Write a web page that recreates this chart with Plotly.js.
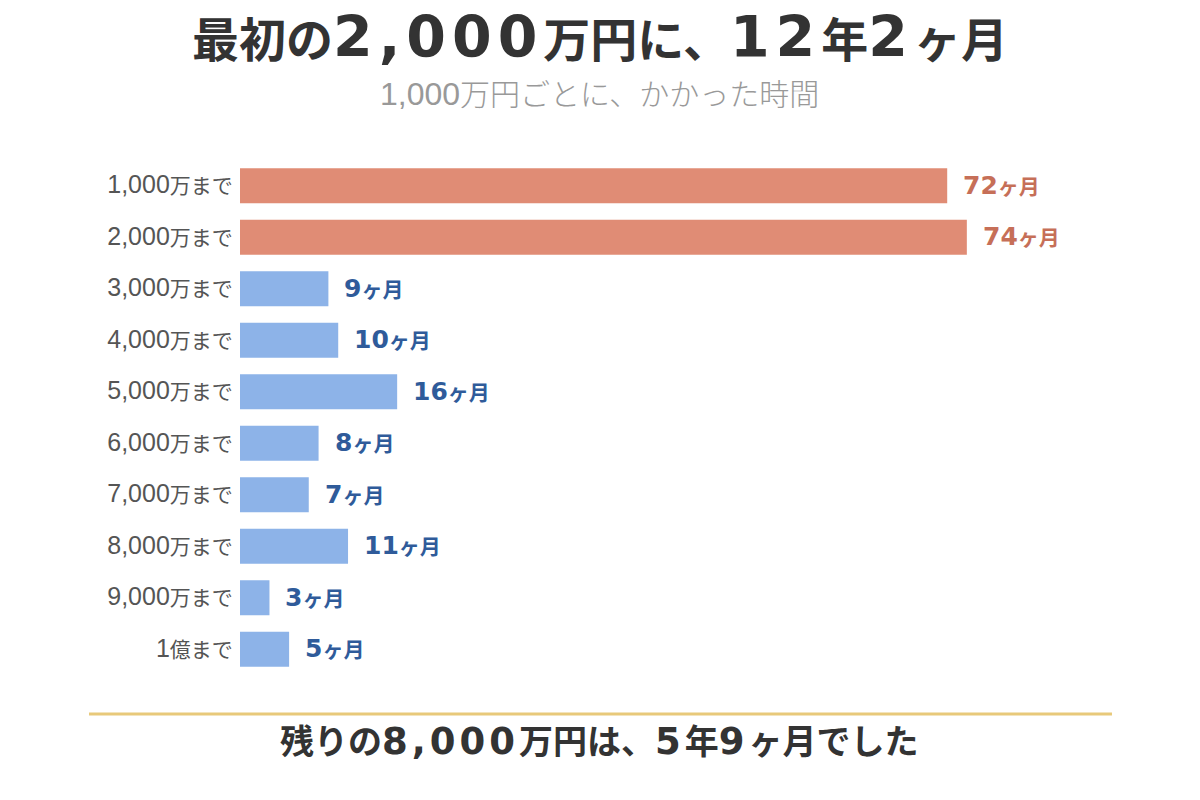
<!DOCTYPE html>
<html>
<head>
<meta charset="utf-8">
<script src="https://cdn.plot.ly/plotly-3.0.1.min.js"></script>
<style>
  html, body { margin: 0; padding: 0; background: #fff; }
  #chart { width: 1200px; height: 800px; }
</style>
</head>
<body>
<div id="chart"></div>
<script>
// 1,000万円ごとにかかった月数
const categories = ['1,000万まで', '2,000万まで', '3,000万まで', '4,000万まで', '5,000万まで',
                    '6,000万まで', '7,000万まで', '8,000万まで', '9,000万まで', '1億まで'];
const months = [72, 74, 9, 10, 16, 8, 7, 11, 3, 5];
const highlightCount = 2; // 最初の2,000万円

const titleText = '最初の2,000万円に、12年2ヶ月';
const subtitleText = '1,000万円ごとに、かかった時間';
const footerText = '残りの8,000万円は、5年9ヶ月でした';

const RED = '#e08c75', RED_TEXT = '#c66f58';
const BLUE = '#8db3e8', BLUE_TEXT = '#2f5b9a';
const CJK = '"Noto Sans CJK JP", sans-serif';

// 数字部分だけ大きめ・幅広のフォントにする
function digits(text, size, family, spacing) {
  return text.replace(/[0-9][0-9,]*/g, m =>
    `<span style="font-family:${family};font-size:${size}px;letter-spacing:${spacing}px">${m}</span>`);
}

const barColors = months.map((m, i) => i < highlightCount ? RED : BLUE);
const tickText = categories.map(c => digits(c, 25, 'Liberation Sans', 0));

const trace = {
  type: 'bar',
  orientation: 'h',
  x: months,
  y: categories,
  marker: { color: barColors },
  hoverinfo: 'none'
};

// 月数ラベル
const valueLabels = months.map((m, i) => ({
  x: m, y: categories[i], xref: 'x', yref: 'y',
  text: '<b>' + digits(m + 'ヶ月', 25, 'DejaVu Sans', 0) + '</b>',
  showarrow: false, xanchor: 'left', xshift: 14, yshift: 1,
  font: { family: CJK, size: 21, color: i < highlightCount ? RED_TEXT : BLUE_TEXT }
}));

const layout = {
  width: 1200, height: 800,
  margin: { l: 240, r: 76, t: 160, b: 125 },
  paper_bgcolor: '#fff', plot_bgcolor: '#fff',
  showlegend: false,
  bargap: 0.32,
  font: { family: CJK, color: '#555' },
  xaxis: {
    range: [0, 90], visible: false, fixedrange: true
  },
  yaxis: {
    type: 'category', autorange: 'reversed',
    tickmode: 'array', tickvals: categories, ticktext: tickText,
    showgrid: false, zeroline: false, showline: false,
    ticks: 'outside', ticklen: 2, tickcolor: 'rgba(0,0,0,0)',
    tickfont: { family: CJK, size: 21, color: '#555' },
    fixedrange: true
  },
  shapes: [{
    type: 'line', xref: 'paper', yref: 'paper',
    x0: -0.1708, x1: 0.9864, y0: -0.0757, y1: -0.0757,
    line: { color: '#e8c97a', width: 3 }
  }],
  annotations: valueLabels.concat([
    {
      // タイトル
      xref: 'paper', yref: 'paper', x: 0.407, y: 1.239,
      text: '<b>' + digits(titleText, 57, 'DejaVu Sans', 6) + '</b>', showarrow: false,
      xanchor: 'center', yanchor: 'middle',
      font: { family: CJK, size: 47, color: '#333' }
    },
    {
      xref: 'paper', yref: 'paper', x: 0.407, y: 1.132,
      text: digits(subtitleText, 32, 'Liberation Sans', 0), showarrow: false,
      xanchor: 'center', yanchor: 'middle',
      font: { family: CJK, size: 30, weight: 300, color: '#999' }
    },
    {
      xref: 'paper', yref: 'paper', x: 0.407, y: -0.126,
      text: '<b>' + digits(footerText, 37, 'DejaVu Sans', 4) + '</b>', showarrow: false,
      xanchor: 'center', yanchor: 'middle',
      font: { family: CJK, size: 34, color: '#333' }
    }
  ])
};

Plotly.newPlot('chart', [trace], layout, { displayModeBar: false, staticPlot: true });
</script>
</body>
</html>
